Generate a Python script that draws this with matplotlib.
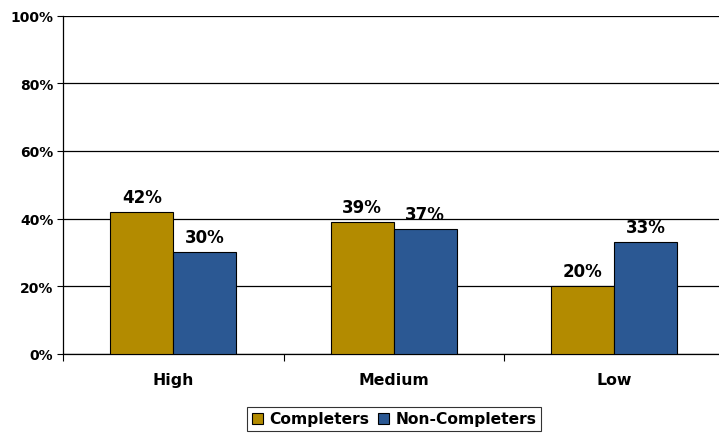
import matplotlib.pyplot as plt
import numpy as np

categories = ['High', 'Medium', 'Low']
completers = [42, 39, 20]
non_completers = [30, 37, 33]
yticks = [0, 20, 40, 60, 80, 100]

gold = '#B38B00'
blue = '#2B5893'

fig = plt.figure(figsize=(7.19, 4.35), dpi=100)
ax = fig.add_axes([63/719, 80/435, 661.5/719, 338.5/435])

x = np.arange(len(categories))
w = 0.286
b1 = ax.bar(x - w/2, completers, w, color=gold, edgecolor='black', linewidth=0.8,
            label='Completers', zorder=3)
b2 = ax.bar(x + w/2, non_completers, w, color=blue, edgecolor='black', linewidth=0.8,
            label='Non-Completers', zorder=3)

for bars, vals in ((b1, completers), (b2, non_completers)):
    for r, v in zip(bars, vals):
        ax.text(r.get_x() + r.get_width()/2, v + 1.8, f'{v}%', ha='center', va='bottom',
                fontsize=12, fontweight='bold')

ax.set_xlim(-0.5, 2.5)
ax.set_ylim(0, 100)
ax.set_yticks(yticks)
ax.set_yticklabels([f'{t}%' for t in yticks], fontsize=10, fontweight='bold')
ax.yaxis.grid(True, color='black', linewidth=0.9, zorder=0)
ax.set_axisbelow(True)

ax.set_xticks(x)
ax.set_xticklabels(categories, fontsize=11.3, fontweight='bold')
ax.tick_params(axis='x', which='major', length=0, pad=13)
ax.set_xticks([-0.5, 0.5, 1.5, 2.5], minor=True)
ax.tick_params(axis='x', which='minor', length=5, width=0.8)
ax.tick_params(axis='y', length=4, width=0.8, pad=3)

for s in ('top', 'right'):
    ax.spines[s].set_visible(False)
ax.spines['left'].set_linewidth(0.9)
ax.spines['bottom'].set_linewidth(0.9)

leg = fig.legend(loc='center', bbox_to_anchor=(394/719, 1 - 420/435), ncol=2,
                 frameon=True, fancybox=False, edgecolor='black',
                 prop={'size': 11.2, 'weight': 'bold'}, handlelength=0.7, handleheight=0.7,
                 handletextpad=0.4, columnspacing=0.6, borderpad=0.3, borderaxespad=0)
leg.get_frame().set_linewidth(0.8)

fig.savefig('out.png', dpi=100)
